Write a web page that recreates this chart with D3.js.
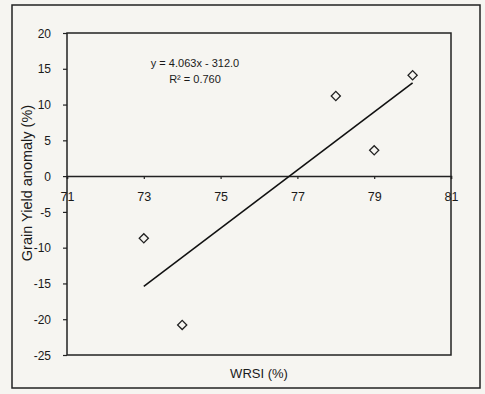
<!DOCTYPE html>
<html>
<head>
<meta charset="utf-8">
<script src="https://cdn.jsdelivr.net/npm/d3@7"></script>
<style>
  body { margin: 0; background: #f6f5f1; }
  svg { display: block; font-family: "Liberation Sans", Arial, sans-serif; }
</style>
</head>
<body>
<svg id="chart" width="485" height="394"></svg>
<script>
// WRSI (%) vs grain yield anomaly (%)
const wrsi = [73, 74, 78, 79, 80];
const anomaly = [-8.7, -20.8, 11.2, 3.6, 14.1];
const xTicks = [71, 73, 75, 77, 79, 81];
const yTicks = [20, 15, 10, 5, 0, -5, -10, -15, -20, -25];
const fitSlope = 4.063;
const fitIntercept = -312.0;
const fitLabel = ["y = 4.063x - 312.0", "R\u00b2 = 0.760"];

const svg = d3.select("#chart");
const margin = { top: 33, right: 34, bottom: 39, left: 67 };
const width = 485 - margin.left - margin.right;
const height = 394 - margin.top - margin.bottom;

// outer frame
svg.append("rect")
  .attr("x", 12).attr("y", 5)
  .attr("width", 468).attr("height", 383)
  .attr("fill", "none").attr("stroke", "#222").attr("stroke-width", 1.5);

const g = svg.append("g")
  .attr("transform", `translate(${margin.left},${margin.top})`);

const x = d3.scaleLinear().domain([71, 81]).range([0, width]);
const y = d3.scaleLinear().domain([-25, 20]).range([height, 0]);

// plot area box
g.append("rect")
  .attr("width", width).attr("height", height)
  .attr("fill", "none").attr("stroke", "#222").attr("stroke-width", 1.5);

// plain hyphen for negatives, like the original
const fmt = d => String(d);

// Y axis
const yAxis = g.append("g")
  .call(d3.axisLeft(y).tickValues(yTicks).tickSize(4).tickPadding(12).tickFormat(fmt));
yAxis.select(".domain").remove();
yAxis.selectAll("line").attr("stroke", "#222").attr("stroke-width", 1.2);
yAxis.selectAll("text").attr("font-size", 12).attr("fill", "#1a1a1a").attr("dy", "0.35em");

// X axis on the zero line
const xAxis = g.append("g")
  .attr("transform", `translate(0,${y(0)})`)
  .call(d3.axisBottom(x).tickValues(xTicks).tickSize(3).tickPadding(13).tickFormat(fmt));
xAxis.select(".domain").attr("stroke", "#222").attr("stroke-width", 1.5);
xAxis.selectAll("line").attr("stroke", "#222").attr("stroke-width", 1.2);
xAxis.selectAll("text").attr("font-size", 12.5).attr("fill", "#1a1a1a");

// trend line
const fitX = d3.extent(wrsi);
g.append("line")
  .attr("x1", x(fitX[0])).attr("y1", y(fitSlope * fitX[0] + fitIntercept))
  .attr("x2", x(fitX[1])).attr("y2", y(fitSlope * fitX[1] + fitIntercept))
  .attr("stroke", "#111").attr("stroke-width", 1.6);

// diamond markers
const diamond = d3.symbol().type(d3.symbolSquare).size(42);
g.selectAll(".pt")
  .data(wrsi.map((d, i) => ({ x: d, y: anomaly[i] })))
  .join("path")
  .attr("class", "pt")
  .attr("d", diamond)
  .attr("transform", d => `translate(${x(d.x)},${y(d.y)}) rotate(45)`)
  .attr("fill", "none").attr("stroke", "#222").attr("stroke-width", 1.3);

// equation
g.append("text")
  .attr("x", 128).attr("y", 34)
  .attr("text-anchor", "middle").attr("font-size", 11).attr("fill", "#1a1a1a")
  .selectAll("tspan").data(fitLabel).join("tspan")
  .attr("x", 128).attr("dy", (d, i) => i ? 16 : 0)
  .text(d => d);

// axis titles
svg.append("text")
  .attr("x", margin.left + width / 2).attr("y", 378)
  .attr("text-anchor", "middle").attr("font-size", 13).attr("fill", "#1a1a1a")
  .text("WRSI (%)");

svg.append("text")
  .attr("transform", "translate(32,183) rotate(-90)")
  .attr("text-anchor", "middle").attr("font-size", 14.5).attr("fill", "#1a1a1a")
  .text("Grain Yield anomaly (%)");
</script>
</body>
</html>
